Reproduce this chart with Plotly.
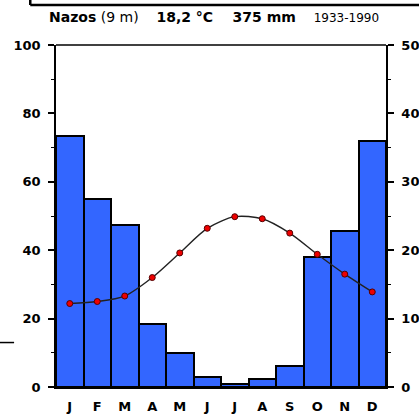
import plotly.graph_objects as go

months = ["J", "F", "M", "A", "M", "J", "J", "A", "S", "O", "N", "D"]
precip_mm = [73.5, 55, 47.5, 18.5, 10, 3, 1, 2.3, 6, 38, 45.5, 72]
temp_c = [12.2, 12.5, 13.3, 16.0, 19.6, 23.2, 24.9, 24.6, 22.5, 19.4, 16.5, 13.9]
left_ticks = [0, 20, 40, 60, 80, 100]
right_ticks = [0, 10, 20, 30, 40, 50]

x = list(range(12))
FONT = "DejaVu Sans"

fig = go.Figure()
fig.add_trace(go.Bar(
    x=x, y=precip_mm,
    marker=dict(color="#3366ff", line=dict(color="black", width=2)),
    yaxis="y", showlegend=False,
))
fig.add_trace(go.Scatter(
    x=x, y=temp_c, mode="lines+markers",
    line=dict(color="#222222", width=1.4, shape="spline", smoothing=0.8),
    marker=dict(color="#ee0000", size=6, line=dict(color="#550000", width=1)),
    yaxis="y2", showlegend=False,
))

fig.update_layout(
    width=419, height=414,
    margin=dict(l=56, r=33, t=45, b=27, autoexpand=False),
    paper_bgcolor="white", plot_bgcolor="white",
    bargap=0,
    font=dict(family=FONT, size=13, color="black"),
    xaxis=dict(
        range=[-0.5, 11.5], tickmode="array", tickvals=x, ticktext=[f"<b>{m}</b>" for m in months],
        showgrid=False, zeroline=False, showline=True, linecolor="black", linewidth=1.5,
        ticks="", ticklabelstandoff=7, tickfont=dict(size=13), automargin=False,
    ),
    yaxis=dict(
        range=[0, 100], tickmode="array", tickvals=left_ticks, ticktext=[f"<b>{v}</b>" for v in left_ticks],
        showgrid=False, zeroline=False, showline=True, linecolor="black", linewidth=1.5,
        ticks="outside", ticklen=6, tickwidth=1.5, tickcolor="black",
        minor=dict(dtick=10, ticks="outside", ticklen=3, tickcolor="black", tickwidth=1),
        tickfont=dict(size=13), ticklabelstandoff=5, automargin=False,
    ),
    yaxis2=dict(
        range=[0, 50], overlaying="y", side="right", tickmode="array", tickvals=right_ticks,
        ticktext=[f"<b>{v}</b>" for v in right_ticks],
        showgrid=False, zeroline=False, showline=True, linecolor="black", linewidth=1.5,
        ticks="outside", ticklen=6, tickwidth=1.5, tickcolor="black",
        minor=dict(dtick=5, ticks="outside", ticklen=3, tickcolor="black", tickwidth=1),
        tickfont=dict(size=13), ticklabelstandoff=5, automargin=False,
    ),
)

# top frame line of the plot area
fig.add_shape(type="line", xref="paper", yref="paper", x0=0, x1=1, y0=1, y1=1,
              line=dict(color="black", width=1.5))
# cropped frame remnants
fig.add_shape(type="line", xref="paper", yref="paper", x0=-0.078, x1=1.2, y0=1.117, y1=1.117,
              line=dict(color="black", width=2.5))
fig.add_shape(type="line", xref="paper", yref="paper", x0=-0.078, x1=-0.078, y0=1.117, y1=1.15,
              line=dict(color="black", width=2.5))
fig.add_shape(type="line", xref="paper", yref="paper", x0=-0.17, x1=-0.127, y0=0.13, y1=0.13,
              line=dict(color="black", width=1.5))

fig.add_annotation(
    xref="paper", yref="paper", x=0.48, y=1.052, xanchor="center", yanchor="bottom", showarrow=False,
    text="<b>Nazos</b> (9 m)    <b>18,2 °C    375 mm</b>    <span style='font-size:12px'>1933-1990</span>",
    font=dict(family=FONT, size=14, color="black"),
)

fig.write_html("out.html", config={"displayModeBar": False},
               post_script="document.body.style.margin='0';document.body.style.overflow='hidden';")
